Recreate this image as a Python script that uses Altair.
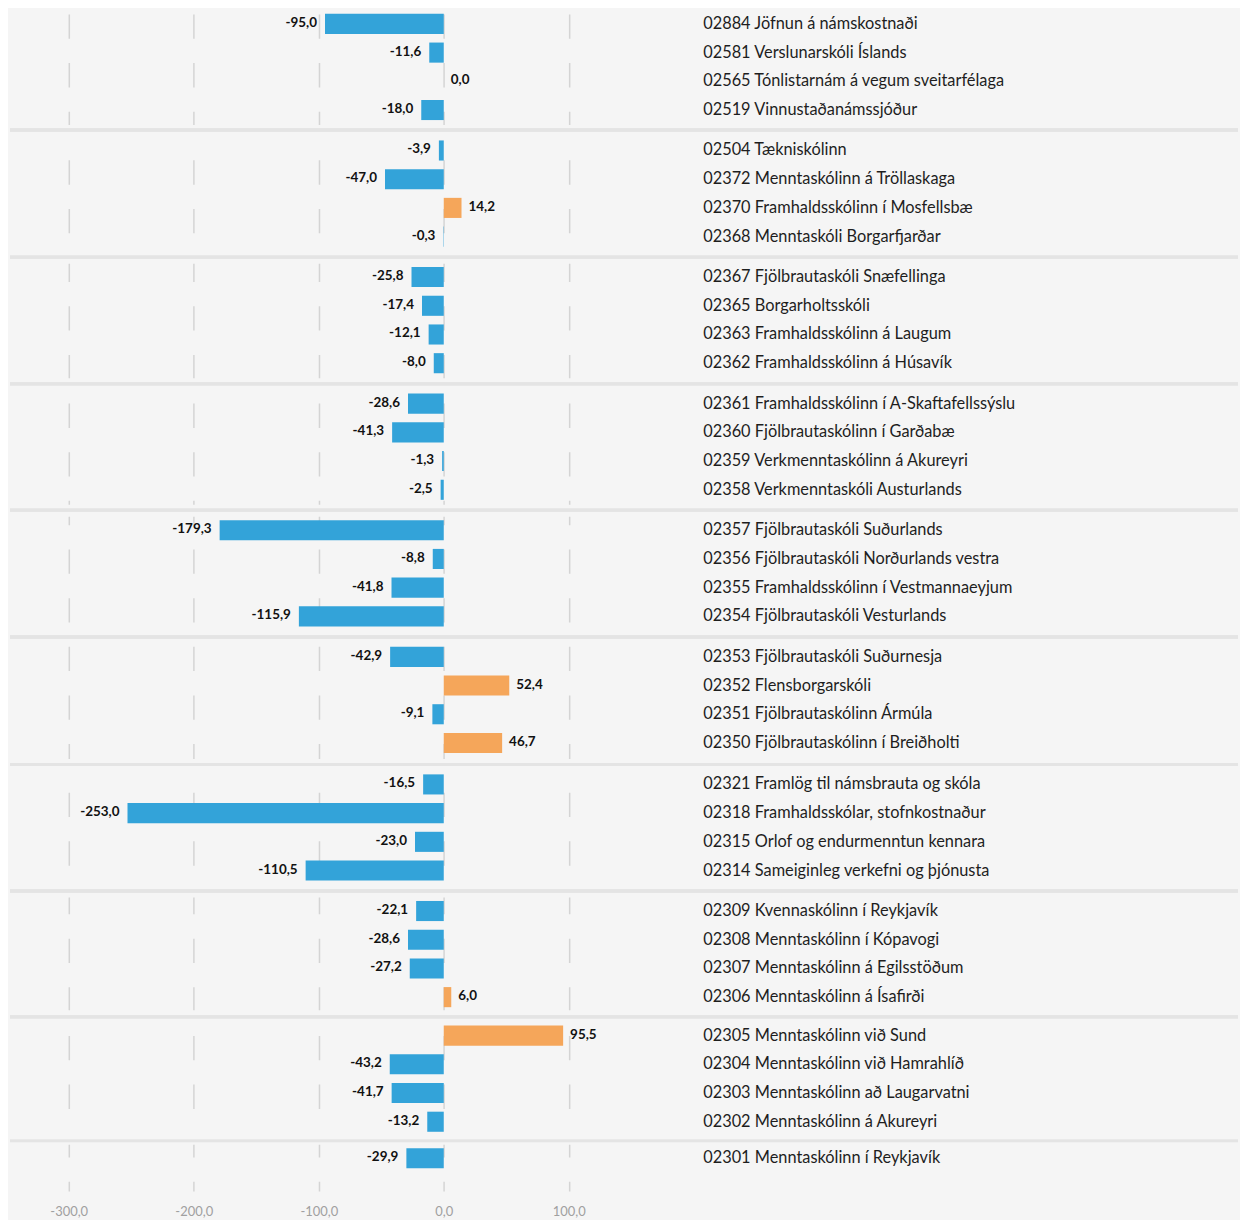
import altair as alt
import pandas as pd

codes = ["02884", "02581", "02565", "02519",
         "02504", "02372", "02370", "02368",
         "02367", "02365", "02363", "02362",
         "02361", "02360", "02359", "02358",
         "02357", "02356", "02355", "02354",
         "02353", "02352", "02351", "02350",
         "02321", "02318", "02315", "02314",
         "02309", "02308", "02307", "02306",
         "02305", "02304", "02303", "02302",
         "02301"]
names = ["Jöfnun á námskostnaði", "Verslunarskóli Íslands", "Tónlistarnám á vegum sveitarfélaga", "Vinnustaðanámssjóður",
         "Tækniskólinn", "Menntaskólinn á Tröllaskaga", "Framhaldsskólinn í Mosfellsbæ", "Menntaskóli Borgarfjarðar",
         "Fjölbrautaskóli Snæfellinga", "Borgarholtsskóli", "Framhaldsskólinn á Laugum", "Framhaldsskólinn á Húsavík",
         "Framhaldsskólinn í A-Skaftafellssýslu", "Fjölbrautaskólinn í Garðabæ", "Verkmenntaskólinn á Akureyri", "Verkmenntaskóli Austurlands",
         "Fjölbrautaskóli Suðurlands", "Fjölbrautaskóli Norðurlands vestra", "Framhaldsskólinn í Vestmannaeyjum", "Fjölbrautaskóli Vesturlands",
         "Fjölbrautaskóli Suðurnesja", "Flensborgarskóli", "Fjölbrautaskólinn Ármúla", "Fjölbrautaskólinn í Breiðholti",
         "Framlög til námsbrauta og skóla", "Framhaldsskólar, stofnkostnaður", "Orlof og endurmenntun kennara", "Sameiginleg verkefni og þjónusta",
         "Kvennaskólinn í Reykjavík", "Menntaskólinn í Kópavogi", "Menntaskólinn á Egilsstöðum", "Menntaskólinn á Ísafirði",
         "Menntaskólinn við Sund", "Menntaskólinn við Hamrahlíð", "Menntaskólinn að Laugarvatni", "Menntaskólinn á Akureyri",
         "Menntaskólinn í Reykjavík"]
values = [-95.0, -11.6, 0.0, -18.0,
          -3.9, -47.0, 14.2, -0.3,
          -25.8, -17.4, -12.1, -8.0,
          -28.6, -41.3, -1.3, -2.5,
          -179.3, -8.8, -41.8, -115.9,
          -42.9, 52.4, -9.1, 46.7,
          -16.5, -253.0, -23.0, -110.5,
          -22.1, -28.6, -27.2, 6.0,
          95.5, -43.2, -41.7, -13.2,
          -29.9]
group_sizes = [4, 4, 4, 4, 4, 4, 4, 4, 4, 1]
x_ticks = [-300, -200, -100, 0, 100]

labels = [f"{c} {n}" for c, n in zip(codes, names)]
groups = [g for g, s in enumerate(group_sizes) for _ in range(s)]
txt = [f"{v:.1f}".replace(".", ",") for v in values]
df = pd.DataFrame({"label": labels, "v": values, "g": groups, "txt": txt})

BLUE = "#33a3d9"
ORANGE = "#f5a65a"
BG = "#f5f5f5"
FONT = "Lato"

# layout
X_DOMAIN = [-347, 141]
W = 612
STEP = 28.8
PAD_IN = 0.3
TOP_OFF = 3.9           # space above first band in each panel
GAP = 12
PERIOD = 48.8
DASH = 24.4
panel_tops = [0, 127, 254, 381, 508, 635, 763, 890, 1015, 1138]
sep_offsets = [None, -6.5, -6, -6, -6, -6, -6, -6, -5, -3.5]
PLOT_BOTTOM = 1185

charts = []
for k, n in enumerate(group_sizes):
    last = k == len(group_sizes) - 1
    top = panel_tops[k]
    H = (PLOT_BOTTOM - top) if last else (panel_tops[k + 1] - top - GAP)
    po = ((H / STEP) - (n - PAD_IN)) / 2
    al = TOP_OFF / (H - STEP * (n - PAD_IN))
    bottom = top + H
    off = (DASH - (bottom + 8 - 12)) % PERIOD

    xaxis = alt.Axis(
        values=x_ticks, grid=True, gridDash=[DASH, DASH], gridDashOffset=off,
        gridColor="#d4d4d4", gridWidth=1.5, domain=False, ticks=False,
        labels=last, labelExpr="replace(replace(format(datum.value, '.1f'), '.', ','), '\u2212', '-')",
        labelPadding=14, labelColor="#a0a0a0", labelFontSize=13, labelFont=FONT, title=None,
    )
    dom = [lab for lab, g in zip(labels, groups) if g == k]
    yaxis = alt.Axis(
        orient="right", ticks=False, domain=False, grid=False, labelPadding=83,
        labelFont=FONT, labelFontSize=16.4, labelColor="#1e1e1e", labelLimit=700, title=None,
    )
    X = alt.X("v:Q", scale=alt.Scale(domain=X_DOMAIN, nice=False, zero=False), axis=xaxis)
    Y = alt.Y("label:N", sort=None,
              scale=alt.Scale(domain=dom, paddingInner=PAD_IN, paddingOuter=po, align=al),
              axis=yaxis)

    base = alt.Chart(df).transform_filter(alt.datum.g == k)
    bars = base.mark_bar().encode(
        x=X, y=Y,
        color=alt.condition(alt.datum.v >= 0, alt.value(ORANGE), alt.value(BLUE)),
    )
    neg = base.transform_filter(alt.datum.v < 0).mark_text(
        align="right", baseline="middle", dx=-8, dy=-1, font=FONT, fontSize=13.5,
        fontWeight="bold", color="#111111",
    ).encode(x=X, y=Y, text="txt:N")
    pos = base.transform_filter(alt.datum.v >= 0).mark_text(
        align="left", baseline="middle", dx=7, dy=-1, font=FONT, fontSize=13.5,
        fontWeight="bold", color="#111111",
    ).encode(x=X, y=Y, text="txt:N")
    layers = [bars, neg, pos]
    if k > 0:
        sep = base.mark_rule(color="#e4e4e4", strokeWidth=3).encode(
            x=alt.value(0), x2=alt.value(1232), y=alt.value(sep_offsets[k])
        )
        layers.append(sep)
    charts.append(alt.layer(*layers).properties(width=W, height=H))

chart = alt.vconcat(*charts, spacing=GAP, bounds="flush").resolve_scale(
    x="independent", y="independent"
).properties(
    padding=0, background=BG
).configure_view(stroke=None)

chart.save("out.html", embed_options={"renderer": "svg", "actions": False})
